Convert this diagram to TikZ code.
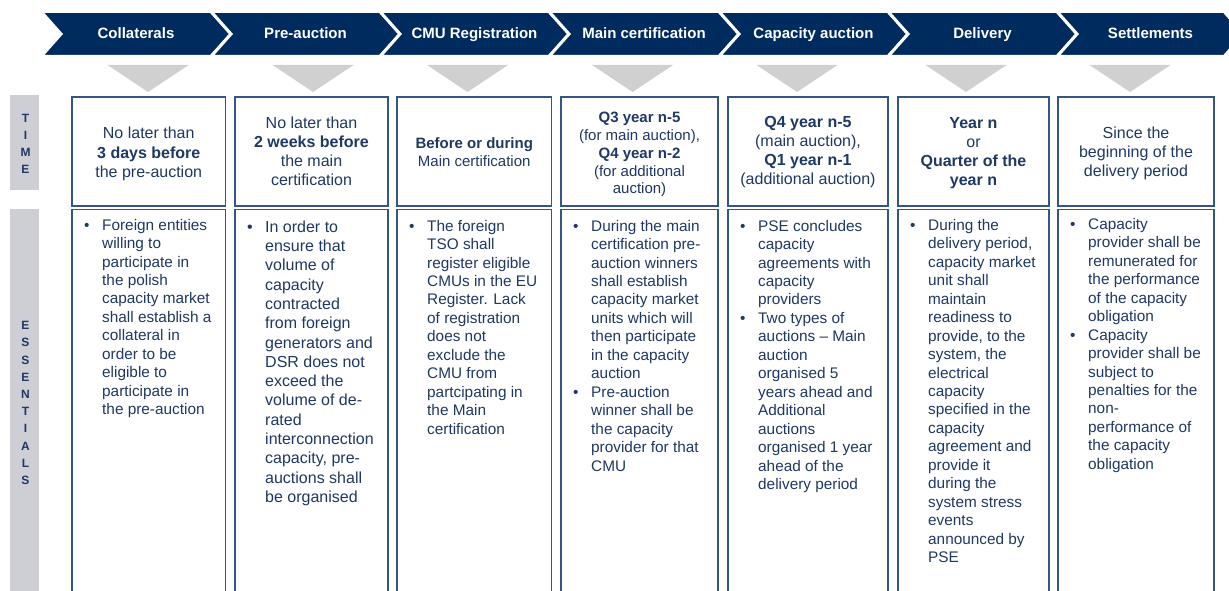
\documentclass[tikz,border=0pt]{standalone}
\usepackage{fontspec}
\setmainfont{Liberation Sans}
\definecolor{navy}{RGB}{0,43,95}
\definecolor{txt}{RGB}{31,56,100}
\definecolor{boxline}{RGB}{51,85,135}
\definecolor{trigray}{RGB}{208,208,208}
\definecolor{bargray}{RGB}{205,207,213}
\newcommand\fs{\rule{0pt}{0.8em}}
\newcommand\bu{\makebox[18pt][l]{\textbullet}}
\newcommand\ii{\makebox[18pt]{}}
\begin{document}
\begin{tikzpicture}[x=1pt,y=-1pt,
  chev/.style={fill=navy,draw=white,line width=3pt,line join=miter},
  chevtext/.style={text=white,font=\fontsize{15}{18}\selectfont\bfseries,anchor=base,inner sep=0pt},
  trishape/.style={fill=trigray,draw=none},
  barshape/.style={fill=bargray,draw=none},
  bartext/.style={text=txt,font=\fontsize{12}{17.2}\selectfont\bfseries,align=center,inner sep=0pt},
  boxshape/.style={draw=boxline,line width=1.1pt},
  timetext/.style={text=txt,align=center,anchor=north,inner sep=0pt},
  esstext/.style={text=txt,align=left,anchor=north west,inner sep=0pt,font=\fontsize{15.35}{18.45}\selectfont},
]
\useasboundingbox[fill=white] (0,0) rectangle (1229,591);

% chevrons
\foreach \bl/\br/\lab/\nm in {51/221/Collaterals/h1, 221/390/Pre-auction/h2, 390/559/CMU Registration/h3, 559/729/Main certification/h4, 729/898/Capacity auction/h5, 898/1067/Delivery/h6, 1067/1234/Settlements/h7}{
  \path[chev] (\bl-10,11.5) -- (\br-10,11.5) -- (\br+10,34) -- (\br-10,56.5) -- (\bl-10,56.5) -- (\bl+10,34) -- cycle;
  \node[chevtext] (\nm) at ({(\bl+\br)/2},39) {\lab};
}

% gray triangles
\foreach \cx in {148,313,467.5,632.5,797,966,1130}{
  \path[trishape] (\cx-40.5,65) -- (\cx+40.5,65) -- (\cx,92) -- cycle;
}

% side bars
\path[barshape] (10,95) rectangle (39,190);
\path[barshape] (10,209) rectangle (39,600);
\node[bartext] (time) at (25.5,144) {T\\I\\M\\E};
\node[bartext] (ess) at (25.5,403) {E\\S\\S\\E\\N\\T\\I\\A\\L\\S};

% boxes
\foreach \xl/\xr in {72/225.5, 235/388, 397/551.5, 561/718, 728/888, 898/1049, 1058/1214}{
  \draw[boxshape] (\xl,97) rectangle (\xr,206);
  \draw[boxshape] (\xl,209.5) rectangle (\xr,600);
}

% time texts
\node[timetext,font=\fontsize{16}{19.3}\selectfont] (t1) at (148.75,125.7) {\fs No later than\\\textbf{3 days before}\\the pre-auction};
\node[timetext,font=\fontsize{16}{19}\selectfont] (t2) at (311.5,115.7) {\fs No later than\\\textbf{2 weeks before}\\the main\\certification};
\node[timetext,font=\fontsize{15}{18}\selectfont] (t3) at (474.25,136.5) {\fs\textbf{Before or during}\\Main certification};
\node[timetext,font=\fontsize{15}{17.8}\selectfont] (t4) at (639.5,110.5) {\fs\textbf{Q3 year n-5}\\(for main auction),\\\textbf{Q4 year n-2}\\(for additional\\auction)};
\node[timetext,font=\fontsize{16}{19}\selectfont] (t5) at (808,114.7) {\fs\textbf{Q4 year n-5}\\(main auction),\\\textbf{Q1 year n-1}\\(additional auction)};
\node[timetext,font=\fontsize{16}{19}\selectfont] (t6) at (973.5,115.7) {\fs\textbf{Year n}\\or\\\textbf{Quarter of the}\\\textbf{year n}};
\node[timetext,font=\fontsize{16}{19}\selectfont] (t7) at (1136,125.7) {\fs Since the\\beginning of the\\delivery period};

% essentials texts
\node[esstext] (e1) at (84,217.7) {\fs\bu Foreign entities\\\ii willing to\\\ii participate in\\\ii the polish\\\ii capacity market\\\ii shall establish a\\\ii collateral in\\\ii order to be\\\ii eligible to\\\ii participate in\\\ii the pre-auction};
\node[esstext,font=\fontsize{16}{19.3}\selectfont] (e2) at (247,219.2) {\fs\bu In order to\\\ii ensure that\\\ii volume of\\\ii capacity\\\ii contracted\\\ii from foreign\\\ii generators and\\\ii DSR does not\\\ii exceed the\\\ii volume of de-\\\ii rated\\\ii interconnection\\\ii capacity, pre-\\\ii auctions shall\\\ii be organised};
\node[esstext] (e3) at (409,218.7) {\fs\bu The foreign\\\ii TSO shall\\\ii register eligible\\\ii CMUs in the EU\\\ii Register. Lack\\\ii of registration\\\ii does not\\\ii exclude the\\\ii CMU from\\\ii partcipating in\\\ii the Main\\\ii certification};
\node[esstext] (e4) at (573,218.7) {\fs\bu During the main\\\ii certification pre-\\\ii auction winners\\\ii shall establish\\\ii capacity market\\\ii units which will\\\ii then participate\\\ii in the capacity\\\ii auction\\\bu Pre-auction\\\ii winner shall be\\\ii the capacity\\\ii provider for that\\\ii CMU};
\node[esstext] (e5) at (740,218.7) {\fs\bu PSE concludes\\\ii capacity\\\ii agreements with\\\ii capacity\\\ii providers\\\bu Two types of\\\ii auctions – Main\\\ii auction\\\ii organised 5\\\ii years ahead and\\\ii Additional\\\ii auctions\\\ii organised 1 year\\\ii ahead of the\\\ii delivery period};
\node[esstext] (e6) at (910,218) {\fs\bu During the\\\ii delivery period,\\\ii capacity market\\\ii unit shall\\\ii maintain\\\ii readiness to\\\ii provide, to the\\\ii system, the\\\ii electrical\\\ii capacity\\\ii specified in the\\\ii capacity\\\ii agreement and\\\ii provide it\\\ii during the\\\ii system stress\\\ii events\\\ii announced by\\\ii PSE};
\node[esstext] (e7) at (1070,217) {\fs\bu Capacity\\\ii provider shall be\\\ii remunerated for\\\ii the performance\\\ii of the capacity\\\ii obligation\\\bu Capacity\\\ii provider shall be\\\ii subject to\\\ii penalties for the\\\ii non-\\\ii performance of\\\ii the capacity\\\ii obligation};
\end{tikzpicture}
\end{document}
